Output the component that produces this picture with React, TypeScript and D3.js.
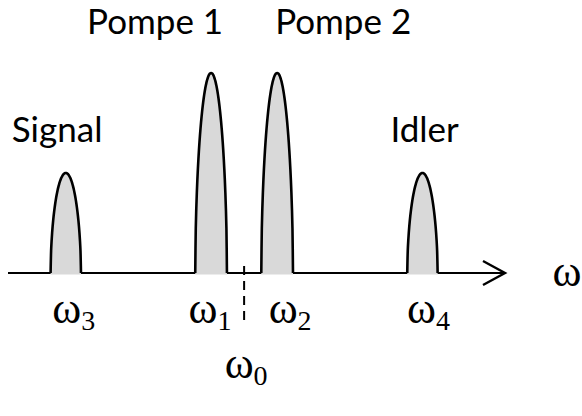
import React from "react";
import * as d3 from "d3";

// Peaks on the frequency axis (units relative to ω0 = 0)
const peakNames = ["Signal", "Pompe 1", "Pompe 2", "Idler"];
const peakCenters = [-5.4, -1.0, 1.0, 5.4];
const peakHeights = [0.5, 1.0, 1.0, 0.5];
const peakHalfWidths = [0.46, 0.48, 0.48, 0.46];
const freqSubscripts = ["3", "1", "2", "4"];

const axisDomain = [-7.15, 7.9];
const centerFreq = 0;

const W = 582;
const H = 416;

const SERIF = "Liberation Serif";

export default function App() {
  const x = d3.scaleLinear().domain([-7.15, 7.9]).range([8, 505]);
  const y = d3.scaleLinear().domain([0, 1]).range([273, 73]);

  const profile = d3.range(0, 61).map((i) => -1 + (2 * i) / 60);
  const shape = (u: number) => Math.pow(Math.max(0, 1 - u * u), 0.55);

  const curve = d3
    .line<[number, number]>()
    .x((d) => d[0])
    .y((d) => d[1])
    .curve(d3.curveCatmullRom);

  const x0 = x(axisDomain[0]);
  const x1 = x(axisDomain[1]);
  const yb = y(0);

  // layout: label placement relative to each peak
  const nameDx = [-54, -124, -2, -32];
  const nameY = [142, 34, 34, 142];
  const freqDx = [8, -1, 13, 6];

  return (
    <svg width={W} height={H} style={{ display: "block", position: "absolute", left: 0, top: 0 }}>
      <rect width={W} height={H} fill="#fff" />
      <line x1={x0} x2={x1} y1={yb} y2={yb} stroke="#000" strokeWidth={2.2} />
      <polyline
        points={`${x1 - 22},${yb - 12} ${x1},${yb} ${x1 - 22},${yb + 12}`}
        fill="none"
        stroke="#000"
        strokeWidth={2.4}
      />
      <line
        x1={x(centerFreq)}
        x2={x(centerFreq)}
        y1={yb - 7}
        y2={yb + 51}
        stroke="#000"
        strokeWidth={2}
        strokeDasharray="9,6"
      />
      {peakCenters.map((c, i) => {
        const pts: [number, number][] = profile.map((u) => [
          x(c + u * peakHalfWidths[i]),
          y(peakHeights[i] * shape(u)),
        ]);
        const d = curve(pts) as string;
        return (
          <g key={i}>
            <path d={d + `L${pts[pts.length - 1][0]},${yb + 1.5}L${pts[0][0]},${yb + 1.5}Z`} fill="#d9d9d9" stroke="none" />
            <path d={d} fill="none" stroke="#000" strokeWidth={2.6} />
          </g>
        );
      })}
      {peakCenters.map((c, i) => (
        <text key={"n" + i} x={x(c) + nameDx[i]} y={nameY[i]} fontFamily="Lato" fontSize={35}>
          {peakNames[i]}
        </text>
      ))}
      {peakCenters.map((c, i) => (
        <text key={i} x={x(c) + freqDx[i]} y={323} textAnchor="middle" fontFamily={SERIF} fontSize={44}>
          {"ω"}
          <tspan fontSize={28} dy={7}>{freqSubscripts[i]}</tspan>
        </text>
      ))}
      <text x={x(centerFreq) + 2} y={378} textAnchor="middle" fontFamily={SERIF} fontSize={44}>
        {"ω"}
        <tspan fontSize={28} dy={7}>0</tspan>
      </text>
      <text x={567} y={286} textAnchor="middle" fontFamily={SERIF} fontSize={44}>{"ω"}</text>
    </svg>
  );
}
